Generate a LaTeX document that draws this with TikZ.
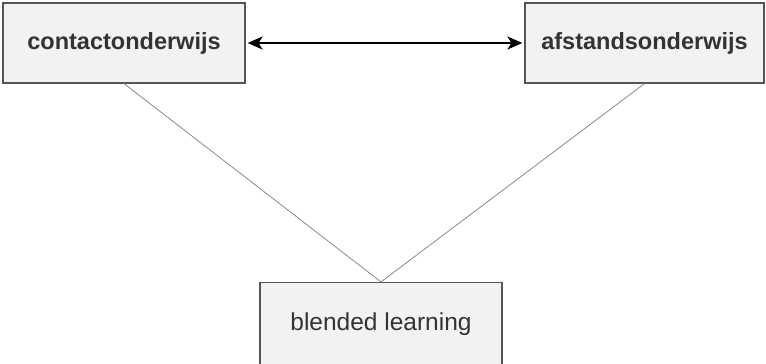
\documentclass[tikz,border=0pt]{standalone}
\usepackage{fontspec}
\setmainfont{Liberation Sans}
\usetikzlibrary{arrows.meta}
\definecolor{boxfill}{HTML}{F2F2F2}
\definecolor{boxline}{HTML}{555555}
\definecolor{txt}{HTML}{333333}
\definecolor{conn}{HTML}{8A8A8A}
\begin{document}
\begin{tikzpicture}[x=1pt,y=-1pt,
  box/.style={draw=boxline, fill=boxfill, line width=1.2pt, inner sep=0pt, text=txt},
  link/.style={draw=conn, line width=0.8pt},
  twoway/.style={line width=1.8pt, {Stealth[length=15pt,width=13pt,inset=4pt]}-{Stealth[length=15pt,width=13pt,inset=4pt]}}]
\useasboundingbox (0,0) rectangle (766,364);
\node[box, minimum width=242pt, minimum height=80pt, font=\fontsize{23.5}{26}\selectfont\bfseries] (L) at (124,43) {contactonderwijs};
\node[box, minimum width=239pt, minimum height=80pt, font=\fontsize{23.5}{26}\selectfont\bfseries] (R) at (644.5,43) {afstandsonderwijs};
\node[box, minimum width=242pt, minimum height=83pt, font=\fontsize{24.5}{27}\selectfont] (B) at (381,324) {blended learning};
\draw[link] (L.south) -- (B.north);
\draw[link] (R.south) -- (B.north);
\draw[twoway] ([xshift=2pt]L.east) -- ([xshift=-2pt]R.west);
\end{tikzpicture}
\end{document}
